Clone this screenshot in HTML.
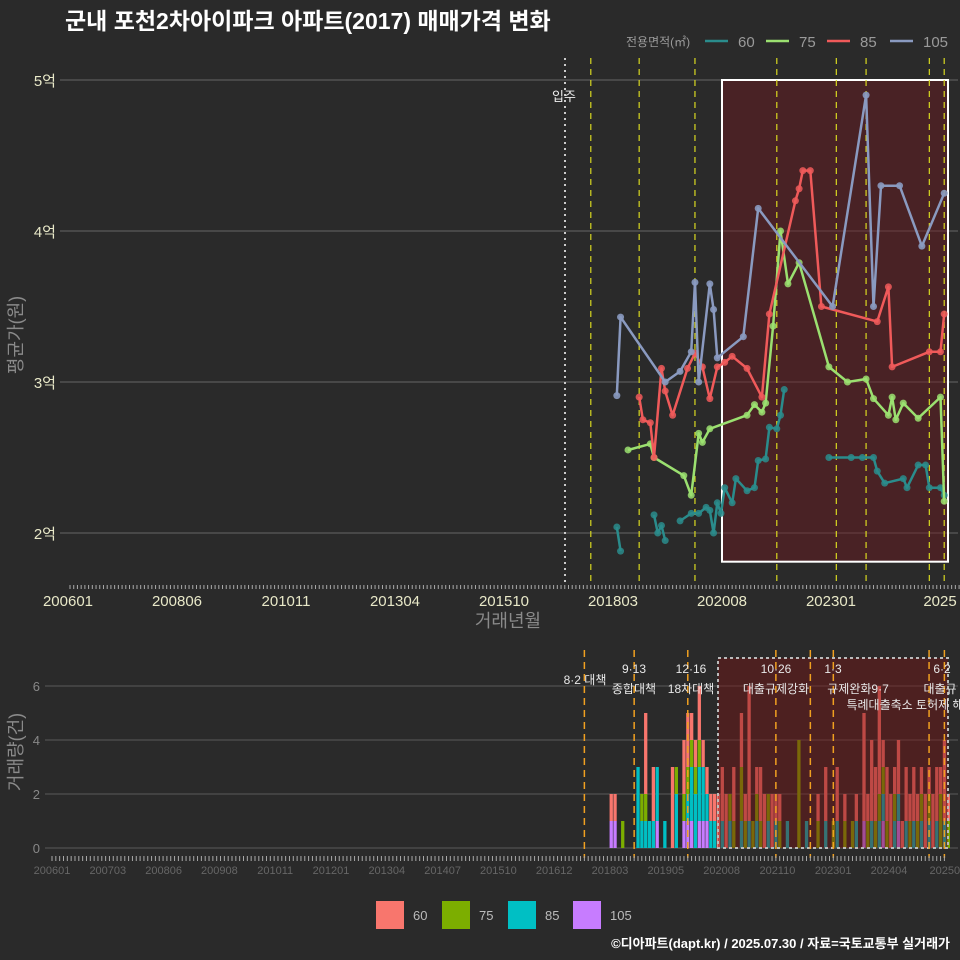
<!DOCTYPE html>
<html><head><meta charset="utf-8">
<style>
html,body{margin:0;padding:0;background:#2a2a2a;}
svg{display:block;font-family:"Liberation Sans","Noto Sans CJK KR",sans-serif;}
</style></head>
<body>
<svg id="chart" width="960" height="960" viewBox="0 0 960 960" xmlns="http://www.w3.org/2000/svg">
<rect width="960" height="960" fill="#2a2a2a"/>
<text x="65" y="29" fill="#ffffff" font-size="23" font-weight="bold">군내 포천2차아이파크 아파트(2017) 매매가격 변화</text>
<g id="legendTop">
<text x="626" y="46" fill="#9a9a9a" font-size="12">전용면적(㎡)</text>
<line x1="705" y1="41" x2="728" y2="41" stroke="#2a8c8c" stroke-width="2.5"/><text x="738" y="47" fill="#9a9a9a" font-size="15">60</text>
<line x1="766" y1="41" x2="789" y2="41" stroke="#9be070" stroke-width="2.5"/><text x="799" y="47" fill="#9a9a9a" font-size="15">75</text>
<line x1="827" y1="41" x2="850" y2="41" stroke="#f05a5a" stroke-width="2.5"/><text x="860" y="47" fill="#9a9a9a" font-size="15">85</text>
<line x1="890" y1="41" x2="913" y2="41" stroke="#8a9ac0" stroke-width="2.5"/><text x="923" y="47" fill="#9a9a9a" font-size="15">105</text>
</g>
<g id="topPanel"></g>
<g id="bottomPanel"></g>
<text x="508" y="627" fill="#8a8a8a" font-size="18" text-anchor="middle">거래년월</text>
<text transform="translate(22,335) rotate(-90)" fill="#8a8a8a" font-size="18" text-anchor="middle">평균가(원)</text>
<text transform="translate(22,752) rotate(-90)" fill="#8a8a8a" font-size="18" text-anchor="middle">거래량(건)</text>
<g>
<rect x="376" y="901" width="28" height="28" fill="#F8766D"/><text x="413" y="920" fill="#bbb" font-size="13">60</text>
<rect x="442" y="901" width="28" height="28" fill="#7CAE00"/><text x="479" y="920" fill="#bbb" font-size="13">75</text>
<rect x="508" y="901" width="28" height="28" fill="#00BFC4"/><text x="545" y="920" fill="#bbb" font-size="13">85</text>
<rect x="573" y="901" width="28" height="28" fill="#C77CFF"/><text x="610" y="920" fill="#bbb" font-size="13">105</text>
</g>
<text x="950" y="948" fill="#ffffff" font-size="13" font-weight="bold" text-anchor="end">©디아파트(dapt.kr) / 2025.07.30 / 자료=국토교통부 실거래가</text>
</svg>
<script>
// ---- price data (억 원) ----
const s105Months = ["2018-04","2018-05","2019-05","2019-09","2019-12","2020-01","2020-02","2020-05","2020-06","2020-07","2021-02","2021-06","2023-02","2023-11","2024-01","2024-03","2024-08","2025-02","2025-08"];
const s105Values = [2.91,3.43,3.00,3.07,3.20,3.66,3.00,3.65,3.48,3.16,3.30,4.15,3.50,4.90,3.50,4.30,4.30,3.90,4.25];
const s85Months = ["2018-10","2018-11","2019-01","2019-02","2019-04","2019-05","2019-07","2019-11","2020-01","2020-03","2020-05","2020-07","2020-09","2020-11","2021-03","2021-07","2021-09","2022-04","2022-05","2022-06","2022-08","2022-11","2024-02","2024-05","2024-06","2025-04","2025-07","2025-08"];
const s85Values = [2.90,2.75,2.73,2.50,3.09,2.94,2.78,3.09,3.19,3.10,2.89,3.10,3.13,3.17,3.09,2.90,3.45,4.20,4.28,4.40,4.40,3.50,3.40,3.63,3.10,3.20,3.20,3.45];
const s75Months = ["2018-07","2019-01","2019-02","2019-10","2019-12","2020-02","2020-03","2020-05","2021-03","2021-05","2021-07","2021-08","2021-10","2021-12","2022-02","2022-05","2023-01","2023-06","2023-11","2024-01","2024-05","2024-06","2024-07","2024-09","2025-01","2025-07","2025-08"];
const s75Values = [2.55,2.59,2.50,2.38,2.25,2.66,2.60,2.69,2.78,2.85,2.80,2.86,3.37,4.00,3.65,3.79,3.10,3.00,3.02,2.89,2.78,2.90,2.75,2.86,2.76,2.90,2.21];
const s60Months = ["2018-04","2018-05",null,"2019-02","2019-03","2019-04","2019-05",null,"2019-09","2019-12","2020-02","2020-04","2020-05","2020-06","2020-07","2020-08","2020-09","2020-11","2020-12","2021-03","2021-05","2021-06","2021-08","2021-09","2021-11","2021-12","2022-01",null,"2023-01","2023-07","2023-10","2024-01","2024-02","2024-04","2024-09","2024-10","2025-01","2025-03","2025-04","2025-07","2025-08"];
const s60Values = [2.04,1.88,null,2.12,2.00,2.05,1.95,null,2.08,2.13,2.13,2.17,2.15,2.00,2.20,2.13,2.30,2.20,2.36,2.28,2.30,2.48,2.49,2.70,2.69,2.78,2.95,null,2.50,2.50,2.50,2.50,2.41,2.33,2.36,2.30,2.45,2.45,2.30,2.30,2.25];
const yTicks = [2,3,4,5];
const yTickLabels = ["2억","3억","4억","5억"];
const xTickLabels = ["200601","200806","201011","201304","201510","201803","202008","202301","2025"];
const policyMonths = ["2017-09","2018-10","2020-01","2021-11","2023-03","2023-11","2025-04","2025-08"];
// ---- volume data ----
const volMonths = ["2018-03","2018-04","2018-06","2018-10","2018-11","2018-12","2019-01","2019-02","2019-03","2019-05","2019-07","2019-08","2019-09","2019-10","2019-11","2019-12","2020-01","2020-02","2020-03","2020-04","2020-05","2020-06","2020-07","2020-08","2020-09","2020-10","2020-11","2021-01","2021-02","2021-03","2021-04","2021-05","2021-06","2021-07","2021-08","2021-09","2021-10","2021-11","2022-01","2022-04","2022-06","2022-09","2022-11","2023-01","2023-02","2023-04","2023-06","2023-07","2023-09","2023-10","2023-11","2023-12","2024-01","2024-02","2024-03","2024-04","2024-05","2024-06","2024-07","2024-08","2024-09","2024-10","2024-11","2024-12","2025-01","2025-02","2025-03","2025-04","2025-05","2025-06","2025-07"];
const vol105 = [1,1,0,0,0,0,0,0,1,0,0,0,0,1,1,1,0,1,1,1,0,0,0,0,0,0,0,0,0,0,0,0,0,0,0,0,0,0,0,0,0,0,0,0,0,0,0,0,1,0,0,0,0,1,0,0,0,1,0,0,0,0,0,0,0,0,0,0,0,0,0];
const vol85  = [0,0,0,3,1,1,1,1,2,1,0,2,0,0,1,2,2,2,2,1,1,1,0,1,0,1,0,1,0,1,0,1,0,0,1,0,1,0,1,0,1,0,1,0,1,0,0,1,0,0,1,0,1,1,0,0,1,1,0,1,0,1,0,1,0,1,0,1,0,1,0];
const vol75  = [0,0,1,0,1,1,0,0,0,0,0,1,0,1,1,1,1,1,0,0,0,0,0,0,0,1,1,2,1,0,1,1,1,0,1,0,0,1,0,4,0,1,0,1,0,1,1,0,0,1,0,1,1,1,1,0,1,0,0,0,1,0,1,1,0,1,0,0,2,0,1];
const vol60  = [1,1,0,0,0,3,0,2,0,0,3,0,0,2,2,1,1,2,1,1,1,1,2,2,2,0,2,2,1,5,0,1,2,2,0,2,1,1,0,0,0,1,2,0,2,1,0,1,4,1,3,2,4,1,2,2,1,2,1,2,1,2,1,1,2,1,2,2,1,3,1];
const volTicks = [0,2,4,6];
const volXLabels = ["200601","200703","200806","200908","201011","201201","201304","201407","201510","201612","201803","201905","202008","202110","202301","202404","20250"];
const volPolicyMonths = ["2017-08","2018-09","2019-11","2021-10","2022-07","2023-01","2025-02","2025-06"];
const NS="http://www.w3.org/2000/svg";
function mk(tag,attrs,parent){const e=document.createElementNS(NS,tag);for(const k in attrs)e.setAttribute(k,attrs[k]);parent.appendChild(e);return e;}
function mi(s){const [y,m]=s.split("-").map(Number);return (y-2006)*12+(m-1);}
const tx=m=>70+m*3.72, ty=v=>533-(v-2)*151;
const bx=m=>52+m*3.83, by=c=>848-c*27;
const topG=document.getElementById("topPanel"), botG=document.getElementById("bottomPanel");
yTicks.forEach((v,i)=>{
  const g=mk("line",{x1:60,x2:958,y1:ty(v),y2:ty(v),stroke:"#5a5a5a","stroke-width":1.2},topG);
  
  
  const t=mk("text",{x:56,y:ty(v)+6,fill:"#e8e8c8","font-size":15,"text-anchor":"end"},topG);t.textContent=yTickLabels[i];
  
  
});
const shade=mk("rect",{x:722,y:ty(5),width:226,height:ty(1.81)-ty(5),fill:"rgba(110,25,30,0.45)",stroke:"#ffffff","stroke-width":2},topG);


const mv=mk("line",{x1:565,x2:565,y1:58,y2:585,stroke:"#cccccc","stroke-width":2,"stroke-dasharray":"2,4"},topG);


const mvt=mk("text",{x:564,y:101,fill:"#eeeeee","font-size":13,"text-anchor":"middle"},topG);mvt.textContent="입주";


policyMonths.forEach(p=>{
  const l=mk("line",{x1:tx(mi(p)),x2:tx(mi(p)),y1:58,y2:585,stroke:"#d8d820","stroke-width":1.2,"stroke-dasharray":"6,5"},topG);
  
  
});
for(let m=0;m<=240;m++){mk("line",{x1:tx(m),x2:tx(m),y1:585,y2:589,stroke:"#aaaaaa","stroke-width":1},topG);}
xTickLabels.forEach((s,i)=>{
  const t=mk("text",{x:68+i*109,y:606,fill:"#e8e8c8","font-size":15,"text-anchor":"middle"},topG);t.textContent=s;
  
  
});
function series(months,vals,color,name,ptOp){
  let d="",pen=false;
  months.forEach((m,i)=>{ if(m===null){pen=false;return;} d+=(pen?"L":"M")+tx(mi(m)).toFixed(1)+","+ty(vals[i]).toFixed(1);pen=true;});
  const p=mk("path",{d:d,fill:"none",stroke:color,"stroke-width":2.5,"stroke-linejoin":"round"},topG);
  
  
  months.forEach((m,i)=>{ if(m===null)return;
    const c=mk("circle",{cx:tx(mi(m)),cy:ty(vals[i]),r:3.5,fill:color,opacity:ptOp},topG);
    
    
  });
}
series(s60Months,s60Values,"#2a8c8c","series-60",0.85);
series(s75Months,s75Values,"#9be070","series-75",0.85);
series(s85Months,s85Values,"#f05a5a","series-85",0.85);
series(s105Months,s105Values,"#8a9ac0","series-105",0.9);
volTicks.forEach(v=>{
  const g=mk("line",{x1:45,x2:958,y1:by(v),y2:by(v),stroke:"#5a5a5a","stroke-width":1},botG);
  
  
  const t=mk("text",{x:40,y:by(v)+5,fill:"#888","font-size":13,"text-anchor":"end"},botG);t.textContent=v;
  
  
});
const cols=["#C77CFF","#00BFC4","#7CAE00","#F8766D"];
volMonths.forEach((m,i)=>{
  let acc=0;
  [vol105[i],vol85[i],vol75[i],vol60[i]].forEach((c,k)=>{
    if(!c)return;
    const r=mk("rect",{x:bx(mi(m))-1.6,y:by(acc+c),width:3.3,height:c*27,fill:cols[k]},botG);
    
    
    acc+=c;
  });
});
const bshade=mk("rect",{x:718,y:658,width:230,height:190,fill:"rgba(120,20,20,0.45)",stroke:"#bbbbbb","stroke-width":2,"stroke-dasharray":"3,3"},botG);


volPolicyMonths.forEach(p=>{
  const l=mk("line",{x1:bx(mi(p)),x2:bx(mi(p)),y1:650,y2:858,stroke:"#f0a020","stroke-width":1.5,"stroke-dasharray":"7,5"},botG);
  
  
});
[["8·2 대책",585,684],["9·13",634,673],["종합대책",634,693],["12·16",691,673],["18차대책",691,693],["10·26",776,673],["대출규제강화",776,693],["1·3",833,673],["규제완화9·7",858,693],["특례대출축소 토허제 해",905,709],["6·2",942,673],["대출규",940,693]].forEach(a=>{
  const t=mk("text",{x:a[1],y:a[2],fill:"#e8e8e8","font-size":12,"text-anchor":"middle"},botG);t.textContent=a[0];
  
  
});
for(let m=0;m<=233;m++){mk("line",{x1:bx(m),x2:bx(m),y1:856,y2:861,stroke:"#aaaaaa","stroke-width":1},botG);}
volXLabels.forEach((s,i)=>{
  const t=mk("text",{x:52+i*55.8,y:874,fill:"#666","font-size":11,"text-anchor":"middle"},botG);t.textContent=s;
  
  
});
</script>
</body></html>
